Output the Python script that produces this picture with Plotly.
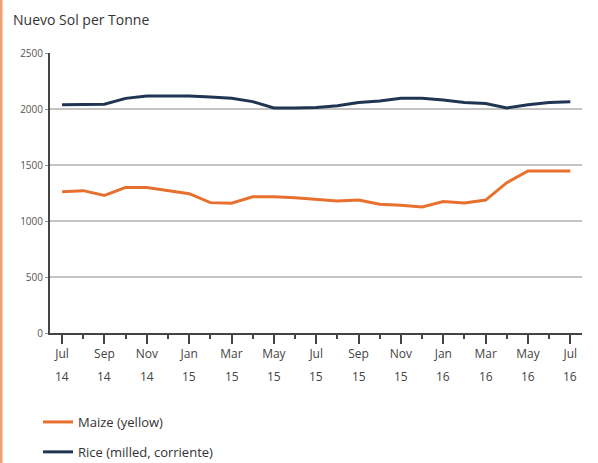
import plotly.graph_objects as go

months = ["Jul 14", "Aug 14", "Sep 14", "Oct 14", "Nov 14", "Dec 14",
          "Jan 15", "Feb 15", "Mar 15", "Apr 15", "May 15", "Jun 15",
          "Jul 15", "Aug 15", "Sep 15", "Oct 15", "Nov 15", "Dec 15",
          "Jan 16", "Feb 16", "Mar 16", "Apr 16", "May 16", "Jun 16", "Jul 16"]

maize = [1262, 1271, 1229, 1300, 1300, 1271, 1244, 1164, 1158, 1217, 1217, 1208,
         1196, 1179, 1187, 1149, 1140, 1125, 1173, 1161, 1187, 1342, 1446, 1446, 1446]

rice = [2038, 2038, 2043, 2095, 2116, 2116, 2116, 2107, 2095, 2066, 2009, 2009,
        2014, 2029, 2058, 2072, 2095, 2095, 2081, 2058, 2049, 2009, 2038, 2058, 2064]

ytick_vals = [0, 500, 1000, 1500, 2000, 2500]

x = list(range(len(months)))
major_idx = x[::2]
month_text = [months[i].split(" ")[0] for i in major_idx]
year_text = [months[i].split(" ")[1] for i in major_idx]

W, H = 598, 463
L, R, T, B = 50, 16, 53, 130
pw, ph = W - L - R, H - T - B

def px_x(p):
    return (p - L) / pw

def px_y(p):
    return (H - B - p) / ph

fig = go.Figure()
fig.add_trace(go.Scatter(x=x, y=maize, mode="lines", name="Maize (yellow)",
                         line=dict(color="#e8702e", width=3), legendgroup="a"))
fig.add_trace(go.Scatter(x=x, y=rice, mode="lines", name="Rice (milled, corriente)",
                         line=dict(color="#1f3553", width=3), legendgroup="b"))

fig.update_layout(
    width=W, height=H,
    margin=dict(l=L, r=R, t=T, b=B, autoexpand=False),
    paper_bgcolor="white", plot_bgcolor="white",
    font=dict(family="Open Sans, Noto Sans, sans-serif", color="#333"),
    showlegend=True,
    legend=dict(x=px_x(38), y=px_y(407), xanchor="left", yanchor="top",
                font=dict(size=13, color="#333"), tracegroupgap=10,
                bgcolor="rgba(0,0,0,0)"),
    xaxis=dict(range=[-0.57, 24.55], tickmode="array", tickvals=major_idx,
               ticktext=month_text, ticks="outside", ticklen=9, tickwidth=2,
               tickcolor="#444", showline=True, linecolor="#444", linewidth=2,
               showgrid=False, zeroline=False,
               tickfont=dict(size=12, color="#444"),
               minor=dict(tick0=1, dtick=2, ticks="outside", ticklen=4,
                          tickwidth=2, tickcolor="#444", showgrid=False)),
    yaxis=dict(range=[0, 2500], tickmode="array", tickvals=ytick_vals,
               ticks="outside", ticklen=3, tickwidth=1, tickcolor="#999",
               showline=True, linecolor="#444", linewidth=2,
               showgrid=True, gridcolor="#c4c4c4", gridwidth=2, zeroline=False,
               tickfont=dict(size=10, color="#555")),
)

for i, yt in zip(major_idx, year_text):
    fig.add_annotation(text=yt, xref="x", yref="paper", x=i, y=px_y(376),
                       xanchor="center", yanchor="middle", showarrow=False,
                       font=dict(size=12, color="#444"))

fig.add_annotation(text="Nuevo Sol per Tonne", xref="paper", yref="paper",
                   x=px_x(11), y=px_y(19), xanchor="left", yanchor="middle",
                   showarrow=False, font=dict(size=14, color="#333"))

fig.add_shape(type="line", xref="paper", yref="paper",
              x0=px_x(1), x1=px_x(1), y0=px_y(H), y1=px_y(0),
              line=dict(color="#f1a06c", width=3))

fig.write_html("out.html", config={"displayModeBar": False},
               post_script="document.body.style.margin='0';document.body.style.overflow='hidden';")
